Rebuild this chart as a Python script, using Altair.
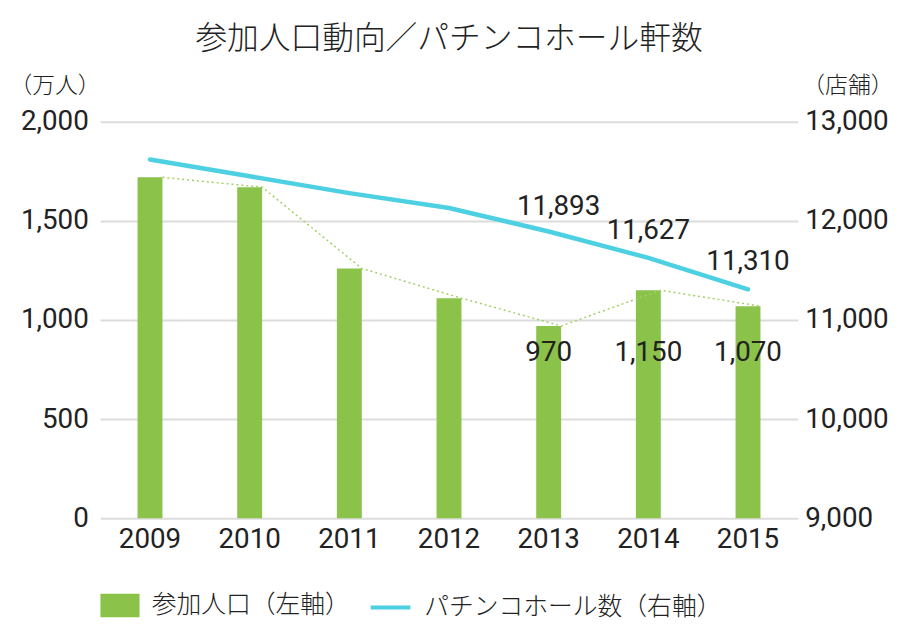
import altair as alt
import pandas as pd

# ---- data ----
years = ["2009", "2010", "2011", "2012", "2013", "2014", "2015"]
participants = [1720, 1670, 1260, 1110, 970, 1150, 1070]          # 参加人口（万人）
halls = [12620, 12450, 12280, 12130, 11893, 11627, 11310]          # パチンコホール数（店舗）
labelled_years = ["2013", "2014", "2015"]
left_ticks = [0, 500, 1000, 1500, 2000]
right_ticks = [9000, 10000, 11000, 12000, 13000]

pop_name = "参加人口（左軸）"
hall_name = "パチンコホール数（右軸）"
title_text = "参加人口動向／パチンコホール軒数"

df = pd.DataFrame({"year": years, "participants": participants, "halls": halls})
df["pop_series"] = pop_name
df["hall_series"] = hall_name

GREEN = "#8bc34a"
CYAN = "#4dd0e1"
DOT = "#a2d163"
TXT = "#222222"
NUM = "Roboto"
JP = "Noto Sans CJK JP"
W = 400      # numbers
WJ = 300     # Japanese text

x_scale = alt.Scale(paddingInner=0.75, paddingOuter=0.375)
x_axis = alt.Axis(labelFont=NUM, labelFontSize=28, labelFontWeight=W, labelColor=TXT,
                  labelPadding=8, ticks=False, domain=False, labelAngle=0, grid=False)


def xenc(**kw):
    return alt.X("year:N", title=None, scale=x_scale, axis=x_axis, **kw)


left_scale = alt.Scale(domain=[0, 2000])
right_scale = alt.Scale(domain=[9000, 13000])

left_axis = alt.Axis(orient="left", values=left_ticks, format=",.0f", labelFont=NUM,
                     labelFontSize=28, labelFontWeight=W, labelColor=TXT, labelPadding=12,
                     ticks=False, domain=False, grid=True, gridColor="#dcdcdc", gridWidth=2,
                     title="（万人）", titleAngle=0, titleFont=JP, titleFontSize=23,
                     titleFontWeight=WJ, titleColor=TXT, titleX=-46, titleY=-37,
                     titleAlign="center", titleBaseline="middle")
right_axis = alt.Axis(orient="right", values=right_ticks, format=",.0f", labelFont=NUM,
                      labelFontSize=28, labelFontWeight=W, labelColor=TXT, labelPadding=7,
                      ticks=False, domain=False, grid=False,
                      title="（店舗）", titleAngle=0, titleFont=JP, titleFontSize=23,
                      titleFontWeight=WJ, titleColor=TXT, titleX=50, titleY=-37,
                      titleAlign="center", titleBaseline="middle")

legend_common = dict(orient="none", legendY=468, title=None, labelFont=JP,
                     labelFontSize=25, labelFontWeight=WJ, labelColor=TXT, labelOffset=12,
                     padding=0, labelLimit=500)

bars = alt.Chart(df).mark_bar().encode(
    x=xenc(),
    y=alt.Y("participants:Q", scale=left_scale, axis=left_axis),
    fill=alt.Fill("pop_series:N", scale=alt.Scale(range=[GREEN]),
                  legend=alt.Legend(legendX=0, symbolType="M-1,-0.6H1V0.6H-1Z",
                                    symbolSize=1560, symbolStrokeWidth=0, **legend_common)),
)

dotted = alt.Chart(df).mark_line(color=DOT, strokeDash=[2, 3], strokeWidth=1.5).encode(
    x=xenc(bandPosition=1),
    y=alt.Y("participants:Q", scale=left_scale, axis=left_axis),
)

pop_labels = alt.Chart(df).transform_filter(
    alt.FieldOneOfPredicate(field="year", oneOf=labelled_years)
).mark_text(font=NUM, fontSize=28, fontWeight=W, color=TXT, baseline="middle").encode(
    x=xenc(),
    y=alt.Y(datum=835, scale=left_scale, axis=left_axis),
    text=alt.Text("participants:Q", format=","),
)

line = alt.Chart(df).mark_line(strokeWidth=4.5, strokeCap="round", strokeJoin="round").encode(
    x=xenc(),
    y=alt.Y("halls:Q", scale=right_scale, axis=right_axis),
    stroke=alt.Stroke("hall_series:N", scale=alt.Scale(range=[CYAN]),
                      legend=alt.Legend(legendX=271, symbolType="stroke", symbolSize=1600,
                                        symbolStrokeWidth=4, **legend_common)),
)

hall_labels_a = alt.Chart(df).transform_filter(
    alt.FieldOneOfPredicate(field="year", oneOf=labelled_years[:1])
).mark_text(font=NUM, fontSize=28, fontWeight=W, color=TXT, baseline="middle",
            dy=-25, dx=10).encode(
    x=xenc(),
    y=alt.Y("halls:Q", scale=right_scale, axis=right_axis),
    text=alt.Text("halls:Q", format=","),
)
hall_labels_b = alt.Chart(df).transform_filter(
    alt.FieldOneOfPredicate(field="year", oneOf=labelled_years[1:])
).mark_text(font=NUM, fontSize=28, fontWeight=W, color=TXT, baseline="middle",
            dy=-27).encode(
    x=xenc(),
    y=alt.Y("halls:Q", scale=right_scale, axis=right_axis),
    text=alt.Text("halls:Q", format=","),
)

left_layer = alt.layer(bars, dotted, pop_labels)
right_layer = alt.layer(line, hall_labels_a, hall_labels_b)

chart = alt.layer(left_layer, right_layer).resolve_scale(
    y="independent", fill="independent", stroke="independent"
).properties(
    width=704,
    height=400,
    autosize=alt.AutoSizeParams(type="none"),
    padding={"left": 93, "top": 112, "right": 95, "bottom": 112},
    title=alt.TitleParams(title_text, font=JP, fontSize=32, fontWeight=WJ,
                          color=TXT, anchor="middle", offset=18),
).configure_view(stroke=None)

chart.save("out.html", embed_options={"renderer": "svg", "actions": False})
